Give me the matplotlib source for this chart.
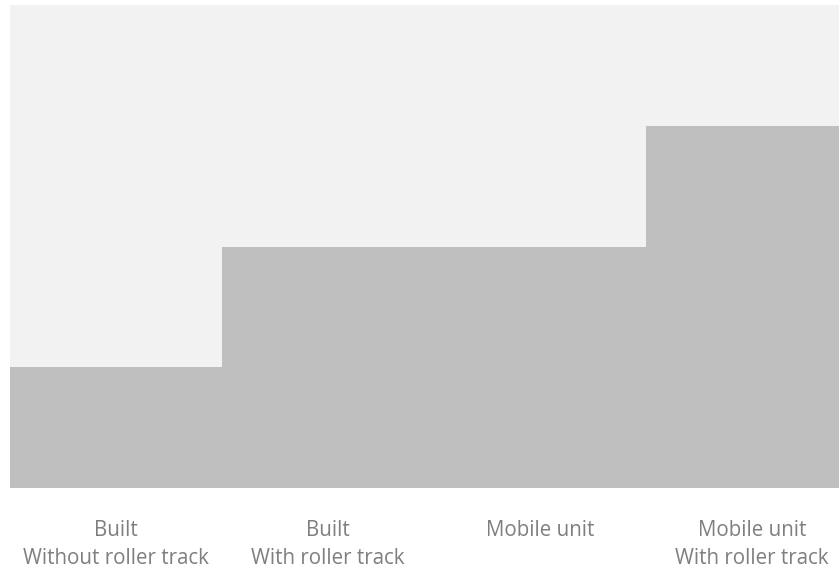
import matplotlib
matplotlib.use("Agg")
import matplotlib.pyplot as plt

categories = ["Built\nWithout roller track", "Built\nWith roller track", "Mobile unit", "Mobile unit\nWith roller track"]
values = [1, 2, 2, 3]
y_max = 4

fig = plt.figure(figsize=(8.39, 5.71), dpi=100)
W, H = 839, 571
ax = fig.add_axes([10 / W, (H - 488) / H, 829 / W, 483 / H])
ax.set_facecolor("#f2f2f2")
x = list(range(len(values)))
ax.bar(x, values, width=1.0, color="#bfbfbf", linewidth=0)
# category width ~212 px; the right-most category is cut at the figure edge
ax.set_xlim(-0.5, len(values) - 0.5 - 19 / 212)
ax.set_ylim(0, y_max)
for s in ax.spines.values():
    s.set_visible(False)
ax.set_yticks([])
ax.set_xticks(x)
ax.set_xticklabels(categories, fontfamily="Open Sans", fontsize=14.8, color="#7f7f7f", linespacing=1.45)
ax.tick_params(axis="x", length=0, pad=23)
fig.savefig("out.png", dpi=100)
